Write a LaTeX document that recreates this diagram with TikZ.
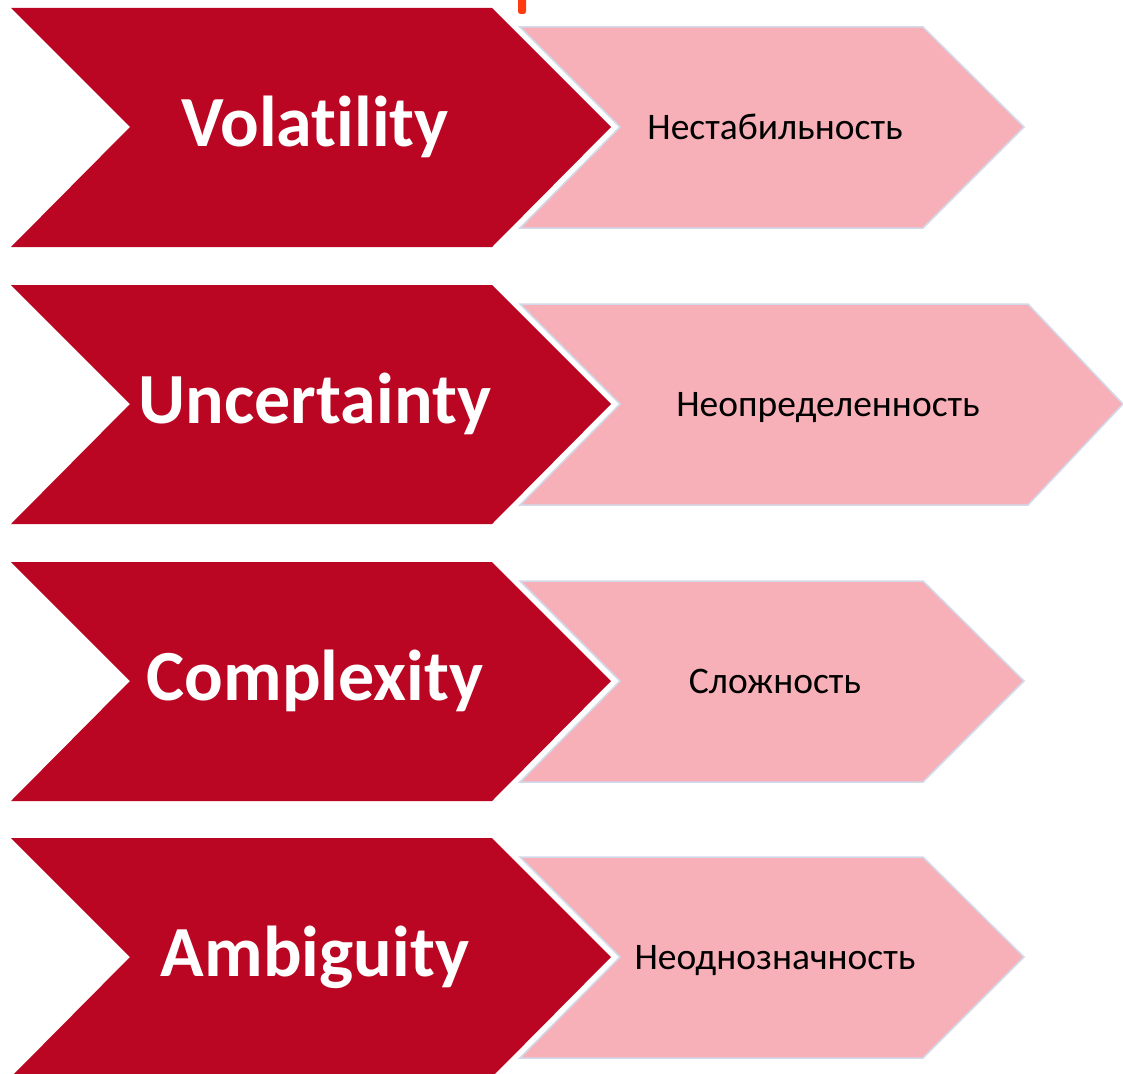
\documentclass[tikz,border=0pt]{standalone}
\usepackage{fontspec}
\setmainfont{Carlito}[Ligatures=NoCommon]
\definecolor{vred}{RGB}{186,6,35}
\definecolor{vpink}{RGB}{247,176,183}
\definecolor{vedge}{RGB}{210,217,234}
\definecolor{vmark}{RGB}{255,60,16}
\tikzset{
  redchev/.style={fill=vred, draw=none},
  pinkchev/.style={fill=vpink, draw=vedge, line width=1.5pt, line join=miter},
  entxt/.style={text=white, font=\fontsize{72}{76}\selectfont\bfseries, anchor=base, inner sep=0pt},
  rutxt/.style={text=black, font=\fontsize{37.5}{40}\selectfont, anchor=base, inner sep=0pt}
}
\begin{document}
\begin{tikzpicture}[x=1pt,y=-1pt]
\useasboundingbox (0,0) rectangle (1123,1073);
\clip (0,0) rectangle (1123,1073);
% orange mark
\fill[vmark, rounded corners=2.5pt] (518,-5) rectangle (526,14);
% red chevrons
\foreach \yc in {127,404,681,957}{
  \path[redchev] (11,\yc-119) -- (492,\yc-119) -- (611,\yc) -- (492,\yc+120) -- (11,\yc+120) -- (130,\yc) -- cycle;
}
% pink chevrons
\foreach \yc/\xr/\xt in {127/923/1024, 404/1028/1123, 681/923/1024, 957/923/1024}{
  \path[pinkchev] (520,\yc-100) -- (\xr,\yc-100) -- (\xt,\yc) -- (\xr,\yc+101) -- (520,\yc+101) -- (620,\yc) -- cycle;
}
% labels
\node[entxt] (v) at (315,146) {Volatility};
\node[entxt] (u) at (315,423) {Uncertainty};
\node[entxt] (c) at (315,700) {Complexity};
\node[entxt] (a) at (315,976) {Ambiguity};
\node[rutxt] (vr) at (775,139) {Нестабильность};
\node[rutxt] (ur) at (828,416) {Неопределенность};
\node[rutxt] (cr) at (775,693) {Сложность};
\node[rutxt] (ar) at (775,969) {Неоднозначность};
\end{tikzpicture}
\end{document}
